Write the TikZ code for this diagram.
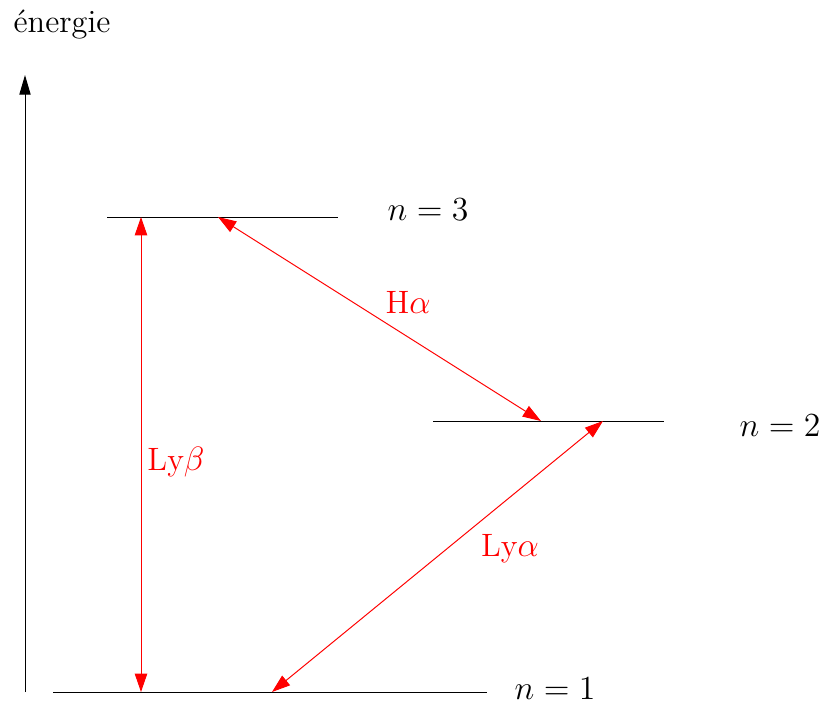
\documentclass[tikz,border=0pt]{standalone}
\usepackage{amsmath,amssymb}
\usepackage{tikz}
\usetikzlibrary{arrows.meta, calc}

\begin{document}
\begin{tikzpicture}[
    x=0.0125cm, y=-0.0125cm,
    level/.style={draw=black, line width=0.35pt},
    axis/.style={draw=black, line width=0.35pt, -{Triangle[length=7pt, width=4pt]}},
    transition/.style={draw=red, line width=0.35pt, {Triangle[length=6.5pt, width=4.4pt]}-{Triangle[length=6.5pt, width=4.4pt]}},
    lvlabel/.style={font=\fontsize{11.5pt}{14pt}\selectfont, inner sep=0pt},
    trlabel/.style={text=red, font=\fontsize{11.5pt}{14pt}\selectfont, inner sep=0pt}
]
\useasboundingbox (0,0) rectangle (824,704);

% Energy axis
\coordinate (axisBot) at (25,692);
\coordinate (axisTop) at (25,75);
\draw[axis] (axisBot) -- (axisTop);
\node[lvlabel] (energy) at (62,25) {énergie};

% Levels
\coordinate (n3L) at (107,217);
\coordinate (n3R) at (338,217);
\coordinate (n2L) at (433,421);
\coordinate (n2R) at (664,421);
\coordinate (n1L) at (53,692);
\coordinate (n1R) at (487,692);
\draw[level] (n3L) -- (n3R);
\draw[level] (n2L) -- (n2R);
\draw[level] (n1L) -- (n1R);
\node[lvlabel] (lab3) at (428,210) {$n = 3$};
\node[lvlabel] (lab2) at (780,426) {$n = 2$};
\node[lvlabel] (lab1) at (555,689) {$n = 1$};

% Transitions
\coordinate (lybTop) at (141,217);
\coordinate (lybBot) at (141,692);
\coordinate (haTop) at (218,217);
\coordinate (haBot) at (541,421);
\coordinate (lyaTop) at (603,421);
\coordinate (lyaBot) at (272,692);
\draw[transition] (lybTop) -- (lybBot);
\draw[transition] (haTop) -- (haBot);
\draw[transition] (lyaTop) -- (lyaBot);
\node[trlabel] (lyb) at (176,462) {Ly$\beta$};
\node[trlabel] (ha) at (408,302) {H$\alpha$};
\node[trlabel] (lya) at (510,549) {Ly$\alpha$};

\end{tikzpicture}
\end{document}
